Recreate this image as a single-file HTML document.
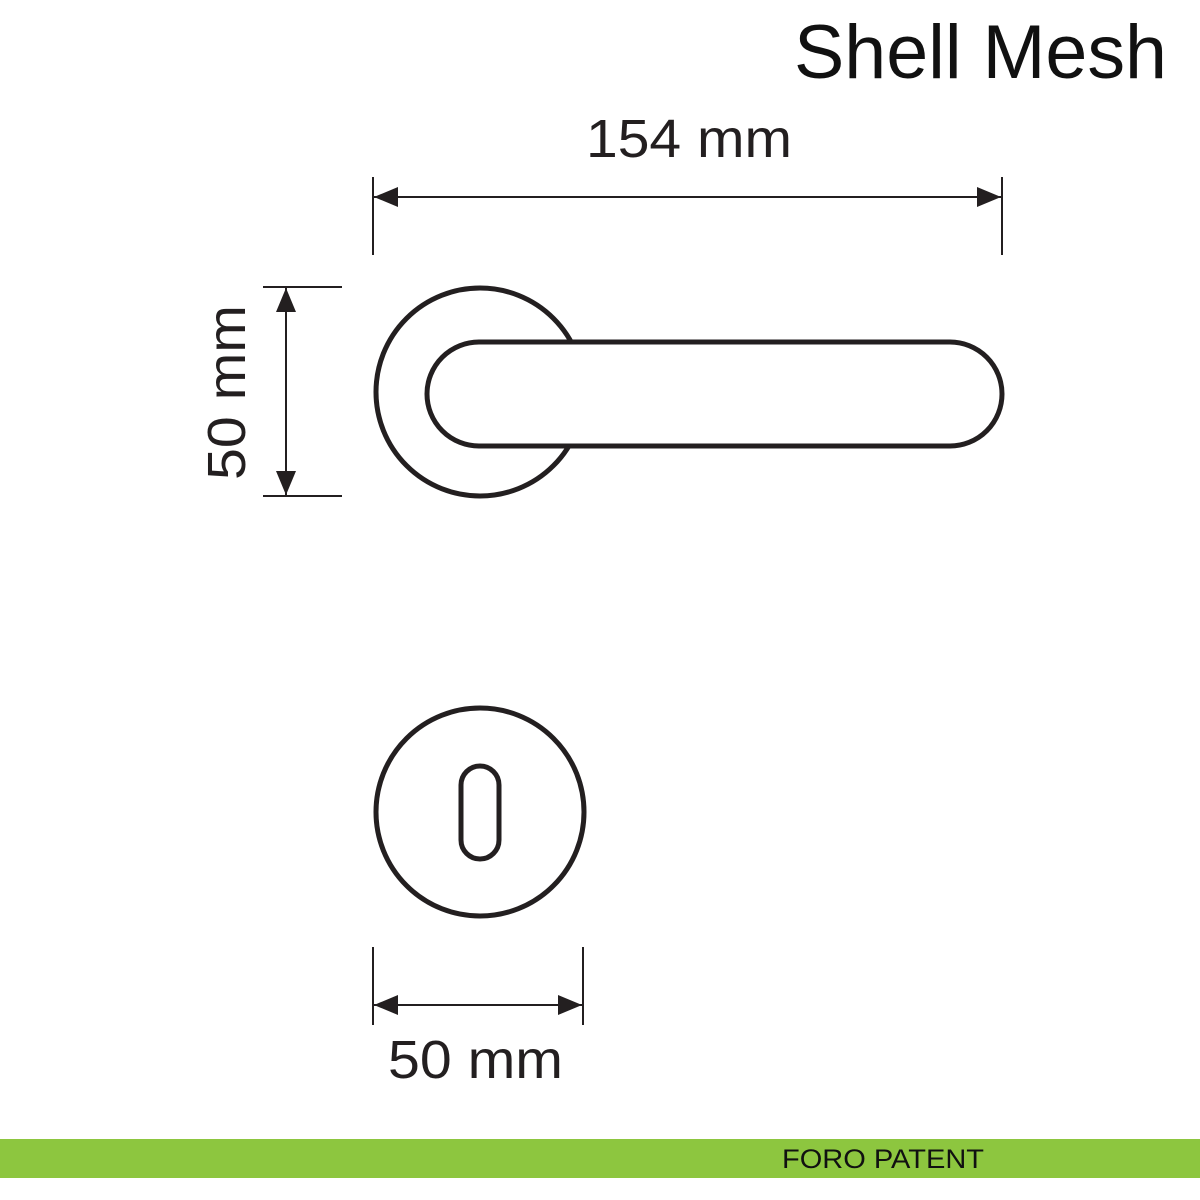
<!DOCTYPE html>
<html><head><style>
html,body{margin:0;padding:0;background:#fff;width:1200px;height:1200px;overflow:hidden}
</style></head><body>
<svg width="1200" height="1200" viewBox="0 0 1200 1200" xmlns="http://www.w3.org/2000/svg">
<defs>
<marker id="a" viewBox="0 0 24 20" refX="24" refY="10" markerWidth="24" markerHeight="20" markerUnits="userSpaceOnUse" orient="auto-start-reverse"><path d="M0,0 L24,10 L0,20 Z" fill="#231f20"/></marker>
</defs>
<text x="794" y="78" textLength="373" lengthAdjust="spacingAndGlyphs" font-family="Liberation Sans, sans-serif" font-size="76" fill="#111">Shell Mesh</text>
<text x="586" y="157" textLength="206" lengthAdjust="spacingAndGlyphs" font-family="Liberation Sans, sans-serif" font-size="54" fill="#231f20">154 mm</text>
<g stroke="#231f20" stroke-width="2" fill="none">
<line x1="373" y1="177" x2="373" y2="255"/>
<line x1="1002" y1="177" x2="1002" y2="255"/>
<line x1="374" y1="197" x2="1001" y2="197" marker-start="url(#a)" marker-end="url(#a)"/>
<line x1="263" y1="287" x2="342" y2="287"/>
<line x1="263" y1="496" x2="342" y2="496"/>
<line x1="286" y1="288" x2="286" y2="495" marker-start="url(#a)" marker-end="url(#a)"/>
<line x1="373" y1="947" x2="373" y2="1025"/>
<line x1="583" y1="947" x2="583" y2="1025"/>
<line x1="374" y1="1005" x2="582" y2="1005" marker-start="url(#a)" marker-end="url(#a)"/>
</g>
<text transform="translate(245,480) rotate(-90)" textLength="175" lengthAdjust="spacingAndGlyphs" font-family="Liberation Sans, sans-serif" font-size="54" fill="#231f20">50 mm</text>
<text x="388" y="1078" textLength="175" lengthAdjust="spacingAndGlyphs" font-family="Liberation Sans, sans-serif" font-size="54" fill="#231f20">50 mm</text>
<g stroke="#231f20" stroke-width="5">
<circle cx="480" cy="392" r="104" fill="#fff"/>
<rect x="427" y="342" width="575" height="104" rx="52" fill="#fff"/>
<circle cx="480" cy="812" r="104" fill="#fff"/>
<rect x="461" y="766" width="38" height="93" rx="19" fill="#fff"/>
</g>
<rect x="0" y="1139" width="1200" height="39" fill="#8dc63f"/>
<text x="782" y="1168" textLength="202" lengthAdjust="spacingAndGlyphs" font-family="Liberation Sans, sans-serif" font-size="27" fill="#111">FORO PATENT</text>
</svg>
</body></html>
